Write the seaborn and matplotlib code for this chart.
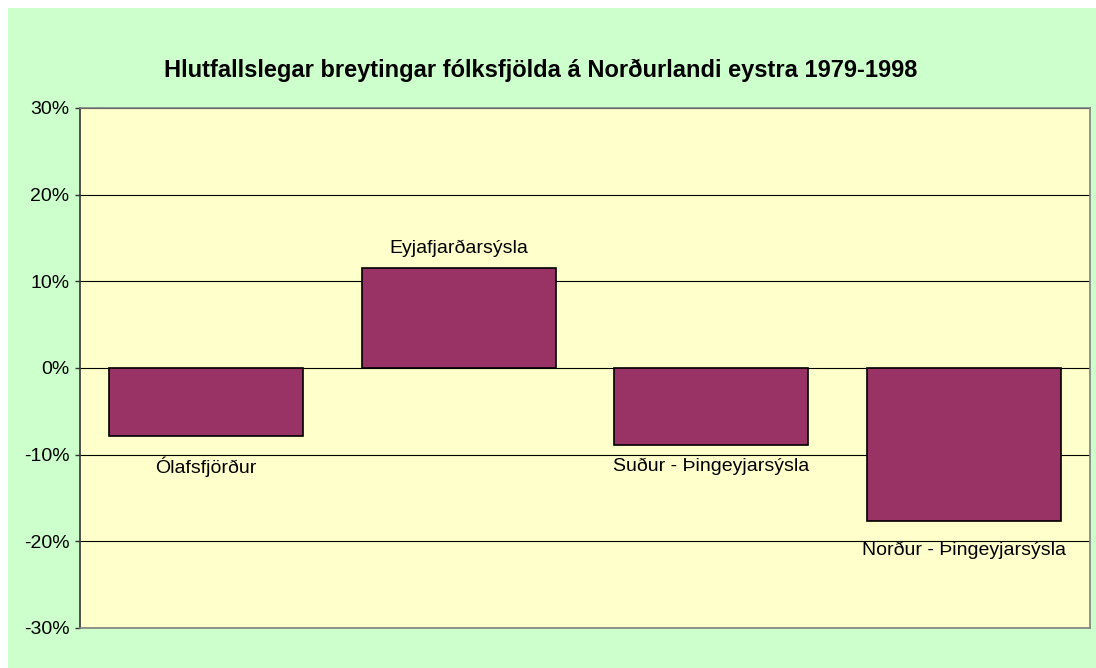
import matplotlib
matplotlib.use("Agg")
import matplotlib.pyplot as plt
import seaborn as sns
import pandas as pd
from matplotlib.patches import Rectangle
from matplotlib.ticker import FuncFormatter

categories = ["Ólafsfjörður", "Eyjafjarðarsýsla", "Suður - Þingeyjarsýsla", "Norður - Þingeyjarsýsla"]
values = [-7.8, 11.5, -8.9, -17.7]
yticks = [-30, -20, -10, 0, 10, 20, 30]
title = "Hlutfallslegar breytingar fólksfjölda á Norðurlandi eystra 1979-1998"

df = pd.DataFrame({"cat": categories, "val": values})

sns.set_style("white")
plt.rcParams['font.family'] = ['Liberation Sans', 'DejaVu Sans']

fig = plt.figure(figsize=(10.96, 6.68), dpi=100)
fig.patch.set_facecolor("white")
fig.add_artist(Rectangle((8/1096, 0), 1 - 8/1096, 1 - 8/668, transform=fig.transFigure,
                         facecolor="#CCFFCC", edgecolor="none", zorder=-10))

ax = fig.add_axes([80/1096, 1 - 628/668, 1010/1096, 520/668])
ax.set_facecolor("#FFFFCC")

sns.barplot(data=df, x="cat", y="val", ax=ax, color="#993366", width=0.77,
            edgecolor="black", linewidth=1.2, saturation=1, zorder=3)

ax.set_ylim(-30, 30)
ax.set_yticks(yticks)
ax.yaxis.set_major_formatter(FuncFormatter(lambda v, p: f"{int(v)}%"))
ax.set_xticks([])
ax.set_xlabel("")
ax.set_ylabel("")
ax.yaxis.grid(True, color="black", linewidth=0.8, zorder=1)
ax.set_axisbelow(True)
ax.tick_params(axis="y", left=True, length=3.6, width=1, color="#333333",
               labelsize=14, pad=4, labelcolor="black")
for s in ["top", "right", "bottom"]:
    ax.spines[s].set_color("#808080")
    ax.spines[s].set_linewidth(1.2)
ax.spines["left"].set_color("#333333")
ax.spines["left"].set_linewidth(1.2)

offsets = [-31, 20, -21, -29]
for i, (c, v) in enumerate(zip(categories, values)):
    ax.annotate(c, xy=(i, v), xytext=(0, offsets[i] * 0.72), textcoords="offset points",
                ha="center", va="center", fontsize=14, color="black")

fig.text(541/1096, 1 - 70/668, title, ha="center", va="center",
         fontsize=17, fontweight="bold", color="black")

fig.savefig("out.png", dpi=100, facecolor=fig.get_facecolor())
